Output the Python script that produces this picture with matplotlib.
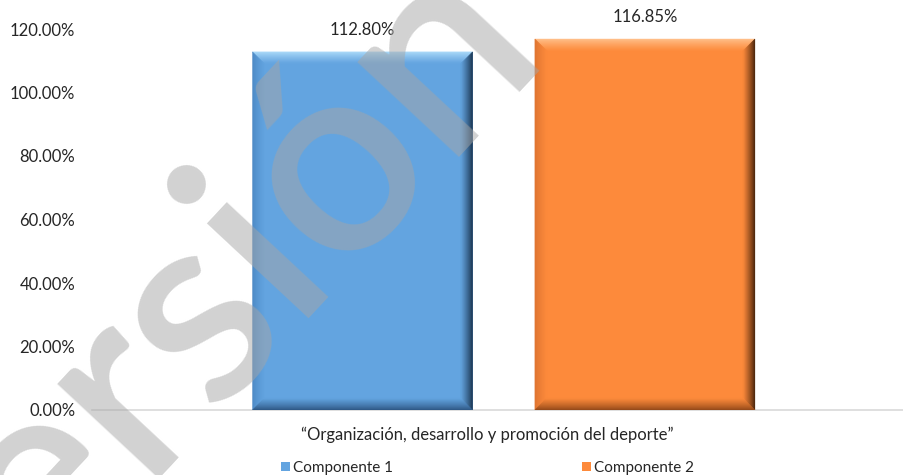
import matplotlib
matplotlib.use("Agg")
import matplotlib.pyplot as plt
import numpy as np
from matplotlib.patches import Polygon
from matplotlib.colors import to_rgb

plt.rcParams['font.family'] = ['Lato', 'DejaVu Sans']

category = "\u201cOrganizaci\u00f3n, desarrollo y promoci\u00f3n del deporte\u201d"
series = ["Componente 1", "Componente 2"]
values = [1.128, 1.1685]
yticks = [0, 0.2, 0.4, 0.6, 0.8, 1.0, 1.2]

fills = ["#63a4e0", "#fd8a3b"]
tops = ["#b4e0fb", "#ffc48f"]
lefts = ["#4a86c2", "#dc7330"]
rights = ["#10243a", "#3a1c08"]
bottoms = ["#2a527e", "#8c4417"]

fig = plt.figure(figsize=(9.04, 4.75), dpi=100)
ax = fig.add_axes([92 / 904, 65 / 475, 824 / 904, 381 / 475])
ax.set_xlim(-0.5, 0.5)
ax.set_ylim(0, 1.2)

offsets = [-0.1717, 0.171]
width = 0.267
px_x = 1 / 824        # one pixel in data units
px_y = 1.2 / 381


def mix(c1, c2, t):
    a, b = np.array(to_rgb(c1)), np.array(to_rgb(c2))
    return tuple(a * (1 - t) + b * t)


def bevel(x0, x1, top, i, size=12, steps=12):
    d = size / steps
    for k in range(steps):
        a, b = k * d, (k + 1) * d
        t = (k + 0.5) / steps
        ax_, bx_ = a * px_x, b * px_x
        ay_, by_ = a * px_y, b * px_y
        sides = [
            ([(x0 + ax_, top - ay_), (x1 - ax_, top - ay_), (x1 - bx_, top - by_), (x0 + bx_, top - by_)], tops[i]),
            ([(x0 + ax_, ay_), (x0 + ax_, top - ay_), (x0 + bx_, top - by_), (x0 + bx_, by_)], lefts[i]),
            ([(x1 - ax_, ay_), (x1 - ax_, top - ay_), (x1 - bx_, top - by_), (x1 - bx_, by_)], rights[i]),
            ([(x0 + ax_, ay_), (x1 - ax_, ay_), (x1 - bx_, by_), (x0 + bx_, by_)], bottoms[i]),
        ]
        for pts, edge in sides:
            ax.add_patch(Polygon(pts, closed=True, color=mix(edge, fills[i], t ** 0.8),
                                 lw=0.3, zorder=3))


for i, v in enumerate(values):
    x0 = offsets[i] - width / 2
    x1 = offsets[i] + width / 2
    ax.bar(offsets[i], v, width, color=fills[i], label=series[i], zorder=2)
    bevel(x0, x1, v, i)
    ax.text(offsets[i], v + 0.069, f"{v * 100:.2f}%", ha="center", va="center",
            fontsize=12, color="#262626", zorder=4)

ax.set_yticks(yticks)
ax.set_yticklabels([f"{t * 100:.2f}%" for t in yticks], fontsize=12, color="#262626")
ax.set_xticks([])
ax.tick_params(length=0, pad=12)
ax.text((487.5 - 92) / 824, -25 / 381, category, transform=ax.transAxes,
        ha="center", va="center", fontsize=12, color="#262626")
for s in ["top", "right", "left"]:
    ax.spines[s].set_visible(False)
ax.spines["bottom"].set_color("#d9d9d9")
ax.spines["bottom"].set_linewidth(1.2)

ax.legend(loc="center", bbox_to_anchor=((487.5 - 92) / 824, -58 / 381), ncol=2,
          frameon=False, fontsize=11, handlelength=0.6, handleheight=0.6,
          handletextpad=0.2, columnspacing=12.4, labelcolor="#262626")

# watermark: put the foot of the "i" at a fixed spot, baseline at 47 degrees
wm = dict(fontsize=195, fontweight="semibold")
renderer = fig.canvas.get_renderer()
tmp1 = fig.text(0, 0, "Vers", **wm)
tmp2 = fig.text(0, 0, "Versi", **wm)
w1 = tmp1.get_window_extent(renderer).width
w2 = tmp2.get_window_extent(renderer).width
tmp1.remove()
tmp2.remove()
ang = np.radians(47)
d = (w1 + w2) / 2
foot = np.array([320, 475 - 307])
origin = foot - d * np.array([np.cos(ang), np.sin(ang)])
fig.text(origin[0] / 904, origin[1] / 475, "Versi\u00f3n", rotation=47,
         rotation_mode="anchor", ha="left", va="baseline", color="#a6a6a6",
         alpha=0.5, zorder=10, **wm)

fig.savefig("out.png", dpi=100)
